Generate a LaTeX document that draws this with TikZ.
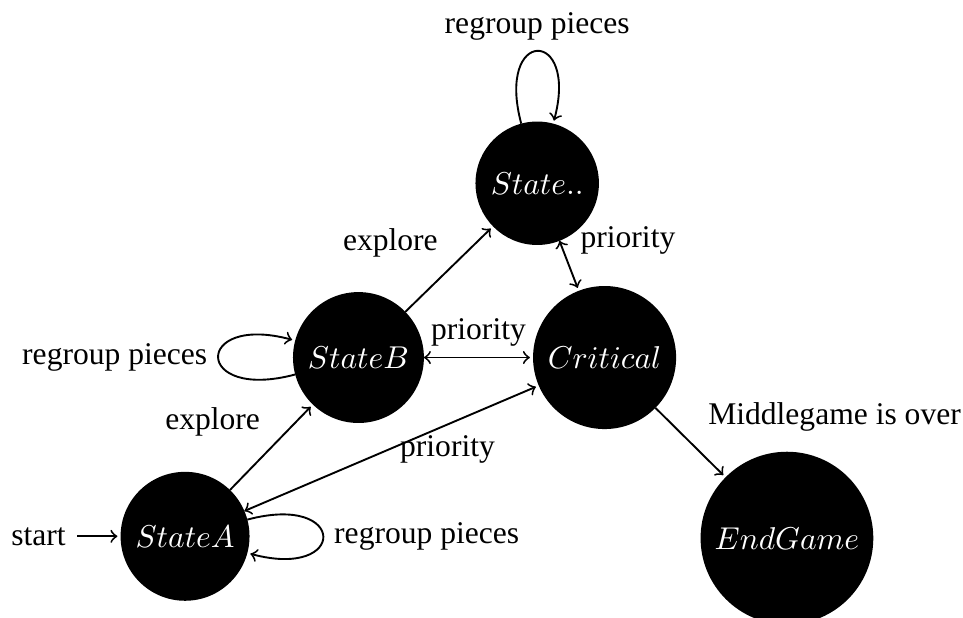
\documentclass[tikz,border=0pt]{standalone}
\usepackage{fontspec}
\setmainfont{Liberation Serif}
\usetikzlibrary{automata}
\tikzset{blackstate/.style={state, fill=black, text=white}}

\begin{document}
\begin{tikzpicture}[->, shorten >=1pt, auto, semithick]
    \useasboundingbox (0,0) rectangle (10.72,6.87);
    % states
    \node[blackstate, initial] (A) at (2.06,0.90) {$StateA$};
    \node[blackstate] (B) at (3.99,2.89) {$StateB$};
    \node[blackstate] (S) at (5.98,4.83) {$State..$};
    \node[blackstate] (C) at (6.73,2.89) {$Critical$};
    \node[blackstate] (E) at (8.76,0.88) {$EndGame$};
    % edges
    \path (A) edge[loop right] node {regroup pieces} (A)
              edge node {explore} (B)
              edge[<->] node[below, pos=0.69] {priority} (C)
          (B) edge[loop left] node {regroup pieces} (B)
              edge node {explore} (S)
              edge[<->] node {priority} (C)
          (S) edge[loop above] node {regroup pieces} (S)
              edge[<->] node[above right] {priority} (C)
          (C) edge node[above right, xshift=2pt] {Middlegame is over} (E);
\end{tikzpicture}
\end{document}
